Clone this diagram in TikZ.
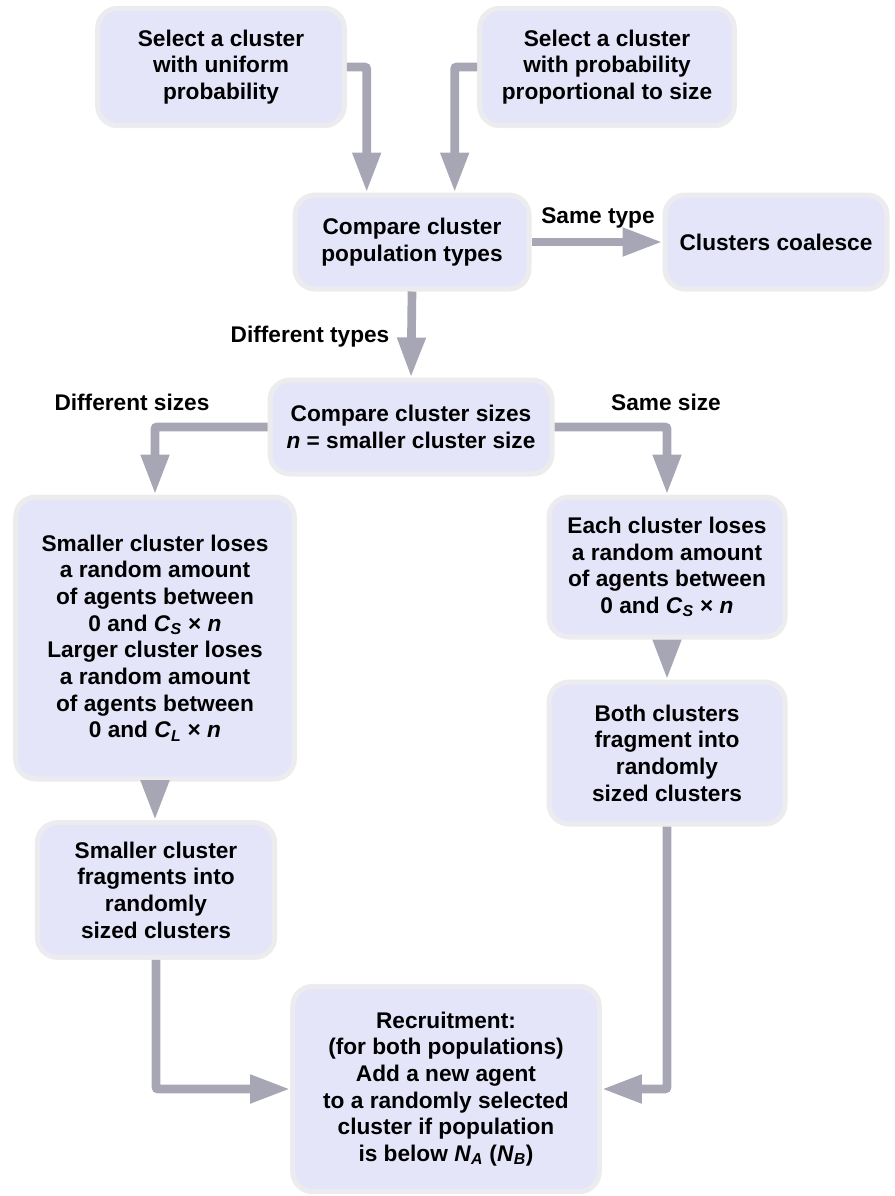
\documentclass[tikz,border=0pt]{standalone}
\usepackage{fontspec}
\setmainfont{Liberation Sans}
\usepackage{tikz}
\usetikzlibrary{arrows.meta}
\definecolor{boxfill}{HTML}{E5E5FA}
\definecolor{boxline}{HTML}{ECECEE}
\definecolor{flowgrey}{HTML}{A6A6B4}
\tikzset{
  box/.style={draw=boxline,line width=3.75pt,fill=boxfill,rounded corners=15pt,align=center,inner sep=0pt,font=\fontsize{17}{20}\selectfont\bfseries},
  flow/.style={draw=flowgrey,line width=6.5pt,-{Triangle[length=30pt,width=20pt]},rounded corners=1.5pt},
  lbl/.style={inner sep=0pt,font=\fontsize{17}{20}\selectfont\bfseries},
}
\newcommand{\ital}[1]{\textit{#1}}
\begin{document}
\begin{tikzpicture}[x=0.75pt,y=-0.75pt]
    \useasboundingbox (0,0) rectangle (894,1196);
    % selection
    \node[box,minimum width=185pt,minimum height=88pt] (uni) at (221,67) {Select a cluster\\with uniform\\probability};
    \node[box,minimum width=191pt,minimum height=88pt] (prop) at (607,67) {Select a cluster\\with probability\\proportional to size};
    % comparisons
    \node[box,minimum width=175.5pt,minimum height=70.5pt] (ctype) at (412,242) {Compare cluster\\population types};
    \node[box,minimum width=166.5pt,minimum height=70.5pt] (merge) at (776,242) {Clusters coalesce};
    \node[box,minimum width=211.5pt,minimum height=70.5pt] (csize) at (411,427) {Compare cluster sizes\\\ital{n} = smaller cluster size};
    % losses
    \node[box,minimum width=209pt,minimum height=211.5pt] (lossd) at (155,638) {Smaller cluster loses\\a random amount\\of agents between\\0 and \ital{C}\textsubscript{\ital{S}} × \ital{n}\\Larger cluster loses\\a random amount\\of agents between\\0 and \ital{C}\textsubscript{\ital{L}} × \ital{n}};
    \node[box,minimum width=177pt,minimum height=105pt] (losss) at (667,567) {Each cluster loses\\a random amount\\of agents between\\0 and \ital{C}\textsubscript{\ital{S}} × \ital{n}};
    % fragmentation
    \node[box,minimum width=178pt,minimum height=101pt] (fragd) at (156,890) {Smaller cluster\\fragments into\\randomly\\sized clusters};
    \node[box,minimum width=177pt,minimum height=106.5pt] (frags) at (667,753) {Both clusters\\fragment into\\randomly\\sized clusters};
    \node[box,minimum width=230pt,minimum height=154pt] (recr) at (446,1089) {Recruitment:\\(for both populations)\\Add a new agent\\to a randomly selected\\cluster if population\\is below \ital{N}\textsubscript{\ital{A}} (\ital{N}\textsubscript{\ital{B}})};
    % labels
    \node[lbl] (lsame) at (598,218) {Same type};
    \node[lbl] (ldiff) at (310,337) {Different types};
    \node[lbl] (ldsz) at (132,402) {Different sizes};
    \node[lbl] (lssz) at (666,402) {Same size};
    % connectors
    \draw[flow] (uni.east) -| ([xshift=-34pt]ctype.north);
    \draw[flow] (prop.west) -| ([xshift=32pt]ctype.north);
    \draw[flow] (ctype.east) -- (merge.west);
    \draw[flow] (ctype.south) -- (csize.north);
    \draw[flow] (csize.west) -| (lossd.north);
    \draw[flow] (csize.east) -| (losss.north);
    \draw[flow] (lossd.south) -- (lossd.south |- fragd.north);
    \draw[flow] (losss.south) -- (frags.north);
    \draw[flow] (fragd.south) |- (recr.west);
    \draw[flow] (frags.south) |- (recr.east);
  \end{tikzpicture}
\end{document}
